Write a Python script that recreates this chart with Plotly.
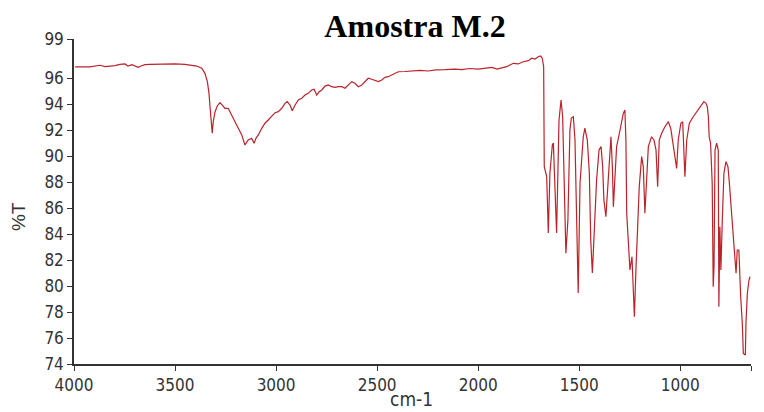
import plotly.graph_objects as go

# FTIR transmittance spectrum, sample M.2
wavenumber = [
    3995, 3921, 3871, 3847, 3797, 3772, 3748, 3733, 3713, 3683, 3668, 3649, 3624, 3574, 3500,
    3451, 3426, 3393, 3368, 3352, 3340, 3332, 3327, 3322, 3319, 3316, 3311, 3302, 3291, 3278,
    3266, 3253, 3237, 3220, 3203, 3187, 3170, 3154, 3138, 3121, 3109, 3099, 3088, 3071, 3055,
    3039, 3022, 3005, 2989, 2972, 2956, 2945, 2931, 2920, 2906, 2890, 2873, 2857, 2841, 2824,
    2812, 2799, 2788, 2774, 2758, 2742, 2725, 2709, 2692, 2675, 2659, 2643, 2626, 2610, 2593,
    2576, 2560, 2544, 2527, 2511, 2494, 2477, 2461, 2445, 2428, 2412, 2395, 2362, 2328, 2288,
    2248, 2209, 2164, 2115, 2080, 2041, 2001, 1966, 1932, 1907, 1892, 1859, 1843, 1826, 1802,
    1777, 1752, 1735, 1719, 1703, 1691, 1683, 1676, 1673, 1661, 1656, 1653, 1645, 1633, 1628,
    1620, 1612, 1600, 1590, 1582, 1574, 1566, 1556, 1546, 1539, 1529, 1521, 1510, 1505, 1496,
    1480, 1472, 1460, 1450, 1443, 1435, 1425, 1414, 1402, 1392, 1384, 1378, 1368, 1356, 1343,
    1336, 1331, 1323, 1315, 1298, 1282, 1274, 1269, 1265, 1257, 1249, 1239, 1232, 1227, 1220,
    1212, 1203, 1191, 1183, 1175, 1166, 1158, 1142, 1130, 1120, 1112, 1104, 1092, 1076, 1059,
    1047, 1038, 1026, 1018, 1010, 997, 988, 982, 977, 968, 955, 936, 919, 903, 883,
    873, 866, 861, 857, 850, 842, 837, 833, 828, 820, 812, 809, 804, 799, 792,
    784, 774, 764, 757, 746, 734, 724, 718, 710, 701, 693, 688, 678, 675, 668,
    660, 655,
]
transmittance = [
    96.85, 96.85, 96.98, 96.87, 96.95, 97.05, 97.08, 96.92, 97.03, 96.82, 96.92, 97.03, 97.05, 97.08, 97.08,
    97.05, 96.98, 96.92, 96.75, 96.36, 95.72, 94.82, 93.79, 92.77, 91.87, 91.75, 92.64, 93.41, 93.85, 94.10,
    93.92, 93.67, 93.67, 93.15, 92.64, 92.13, 91.62, 90.85, 91.23, 91.36, 90.98, 91.38, 91.62, 92.13, 92.52,
    92.77, 93.08, 93.33, 93.41, 93.67, 94.05, 94.18, 93.92, 93.48, 93.92, 94.31, 94.44, 94.69, 94.82, 95.08,
    95.13, 94.69, 94.92, 95.08, 95.38, 95.46, 95.33, 95.28, 95.33, 95.33, 95.21, 95.46, 95.72, 95.59, 95.33,
    95.46, 95.72, 95.98, 95.90, 95.79, 95.72, 95.85, 96.05, 96.10, 96.23, 96.36, 96.48, 96.50, 96.54, 96.58,
    96.54, 96.63, 96.65, 96.69, 96.65, 96.73, 96.69, 96.77, 96.82, 96.69, 96.75, 96.87, 97.00, 97.13, 97.08,
    97.25, 97.33, 97.52, 97.46, 97.64, 97.69, 97.52, 96.87, 89.18, 88.41, 84.08, 84.08, 88.69, 90.85, 91.00,
    87.64, 84.08, 92.77, 94.31, 93.02, 87.64, 82.52, 85.08, 92.00, 92.92, 93.02, 91.23, 83.54, 79.46, 87.92,
    91.48, 92.15, 91.23, 88.69, 83.54, 81.00, 84.56, 88.15, 90.46, 90.72, 89.18, 86.62, 85.33, 88.15, 91.48,
    89.18, 86.10, 88.41, 90.72, 92.00, 93.28, 93.54, 91.23, 85.59, 83.54, 81.23, 82.25, 78.41, 77.64, 81.00,
    84.56, 87.64, 89.95, 89.18, 85.59, 88.69, 90.72, 91.48, 91.23, 90.46, 87.64, 91.23, 91.75, 92.25, 92.64,
    92.13, 91.23, 89.69, 89.05, 91.23, 92.52, 92.64, 90.46, 88.41, 91.23, 92.52, 93.02, 93.41, 93.79, 94.18,
    94.05, 93.79, 93.02, 91.48, 90.98, 87.90, 79.95, 81.49, 90.46, 90.98, 90.46, 78.41, 84.56, 81.23, 85.08,
    88.67, 89.56, 89.18, 87.90, 85.33, 83.02, 80.98, 82.77, 82.77, 79.18, 77.13, 74.82, 74.69, 77.13, 79.44,
    80.46, 80.72,
]

x_ticks = [4000, 3500, 3000, 2500, 2000, 1500, 1000, 650]
y_ticks = [74, 76, 78, 80, 82, 84, 86, 88, 90, 92, 94, 96, 99]

narrow = "Liberation Sans Narrow, Arial Narrow, DejaVu Sans Condensed, sans-serif"
tick_font = dict(family=narrow, size=17, color="#333333")
axis_style = dict(showline=True, linecolor="#333333", linewidth=1.5, ticks="outside",
                  ticklen=5, tickwidth=1, tickcolor="#333333", showgrid=False,
                  zeroline=False, tickfont=tick_font)

fig = go.Figure(go.Scatter(
    x=wavenumber, y=transmittance, mode="lines",
    line=dict(color="#bb232b", width=1.2), hoverinfo="x+y",
))

fig.update_layout(
    width=764, height=412,
    margin=dict(l=74, r=13, t=39, b=48),
    paper_bgcolor="white", plot_bgcolor="white",
    showlegend=False,
    title=dict(text="<b>Amostra M.2</b>", x=415 / 764, xanchor="center",
               y=1 - 26 / 412, yanchor="middle", xref="container", yref="container",
               font=dict(family="Liberation Serif, Times New Roman, serif", size=32, color="black")),
    xaxis=dict(range=[4000, 650], tickvals=x_ticks, **axis_style),
    yaxis=dict(range=[74, 99], tickvals=y_ticks, **axis_style),
    annotations=[
        dict(text="%T", xref="paper", yref="paper", x=(18 - 74) / 677, y=0.452,
             showarrow=False, textangle=-90, xanchor="center", yanchor="middle",
             font=dict(family="Liberation Sans, Arial, sans-serif", size=19, color="#333333")),
        dict(text="cm-1", xref="paper", yref="paper", x=0.498, y=(364 - 399) / 325,
             showarrow=False, xanchor="center", yanchor="middle",
             font=dict(family=narrow, size=19, color="#333333")),
    ],
)

fig.write_html("out.html")
